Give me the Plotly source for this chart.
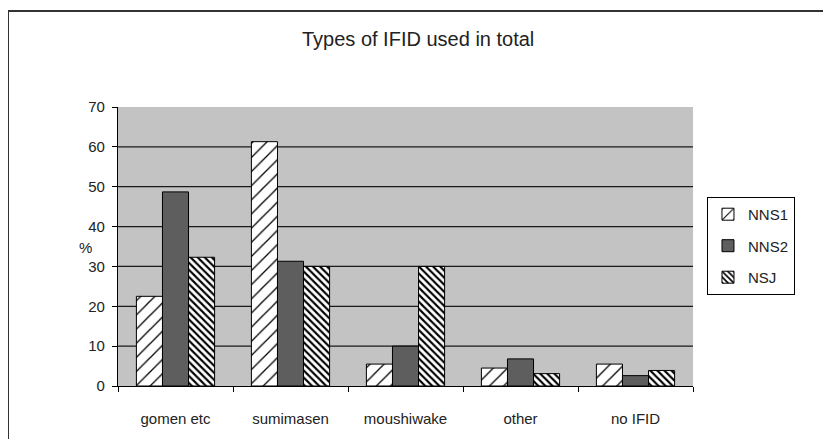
import plotly.graph_objects as go

categories = ["gomen etc", "sumimasen", "moushiwake", "other", "no IFID"]
nns1 = [22.5, 61.3, 5.5, 4.5, 5.5]
nns2 = [48.7, 31.3, 10.0, 6.8, 2.6]
nsj = [32.3, 30.0, 30.0, 3.1, 3.9]
y_ticks = [0, 10, 20, 30, 40, 50, 60, 70]
grid_vals = [10, 20, 30, 40, 50, 60]

FONT = "Liberation Sans, Arial, sans-serif"

fig = go.Figure()
fig.add_trace(go.Bar(
    name="NNS1", x=categories, y=nns1, legendgroup="a",
    marker=dict(color="white", line=dict(color="black", width=1),
                pattern=dict(shape="/", fgcolor="black", bgcolor="white", size=10,
                             solidity=0.13, fgopacity=1)),
))
fig.add_trace(go.Bar(
    name="NNS2", x=categories, y=nns2, legendgroup="b",
    marker=dict(color="#5e5e5e", line=dict(color="black", width=1)),
))
fig.add_trace(go.Bar(
    name="NSJ", x=categories, y=nsj, legendgroup="c",
    marker=dict(color="white", line=dict(color="black", width=1),
                pattern=dict(shape="\\", fgcolor="black", bgcolor="white", size=5,
                             solidity=0.42, fgopacity=1)),
))

shapes = []
for g in grid_vals:
    shapes.append(dict(type="line", xref="paper", yref="y", x0=0, x1=1, y0=g, y1=g,
                       line=dict(color="#1a1a1a", width=1.3), layer="below"))
# outer frame (top and left edges)
shapes.append(dict(type="line", xref="paper", yref="paper", x0=-0.1913, x1=1.3, y0=1.344, y1=1.344,
                   line=dict(color="#333333", width=2)))
shapes.append(dict(type="line", xref="paper", yref="paper", x0=-0.1913, x1=-0.1913, y0=1.344, y1=-0.3,
                   line=dict(color="#333333", width=2)))

fig.update_layout(
    width=831, height=439,
    margin=dict(l=110, r=146, t=99, b=61),
    paper_bgcolor="white",
    plot_bgcolor="#c3c3c3",
    barmode="group", bargap=0.32, bargroupgap=0,
    font=dict(family=FONT, size=15, color="#222222"),
    title=dict(text="Types of IFID used in total", x=0.522, xref="paper", xanchor="center",
               y=1 - 31 / 439, yref="container", yanchor="middle",
               font=dict(family=FONT, size=20, color="#222222")),
    legend=dict(x=1.0243, xanchor="left", y=0.502, yanchor="middle",
                bordercolor="black", borderwidth=1, bgcolor="white",
                font=dict(family=FONT, size=15, color="#222222"),
                tracegroupgap=9),
    shapes=shapes,
    annotations=[dict(text="%", x=-0.0713, y=0.498, xref="paper", yref="paper",
                      showarrow=False, font=dict(family=FONT, size=15, color="#222222"))],
    showlegend=True,
)
fig.update_xaxes(showline=True, linecolor="black", linewidth=1.3, ticks="outside",
                 tickson="boundaries", ticklen=5, tickcolor="black", showgrid=False,
                 ticklabelstandoff=19)
fig.update_yaxes(range=[0, 70], tickvals=y_ticks, showline=True, linecolor="black", linewidth=1.3,
                 ticks="outside", ticklen=5, tickcolor="black", showgrid=False, zeroline=False,
                 ticklabelstandoff=4)

fig.write_html("out.html")
